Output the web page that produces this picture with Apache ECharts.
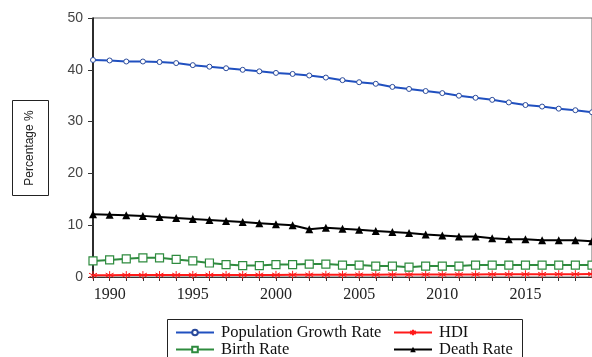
<!DOCTYPE html>
<html>
<head>
    <meta charset="utf-8">
    <script src="https://cdn.jsdelivr.net/npm/echarts@6/dist/echarts.min.js"></script>
</head>
<body style="margin:0">
    <div id="main" style="width: 592px;height:357px;"></div>
    <script type="text/javascript">
        var years = [];
        for (var y = 1989; y <= 2019; y++) years.push(String(y));

        var popGrowth = [41.9, 41.8, 41.6, 41.6, 41.5, 41.3, 40.9, 40.6, 40.3, 40.0, 39.7, 39.4, 39.2,
            38.9, 38.5, 38.0, 37.6, 37.3, 36.7, 36.3, 35.9, 35.5, 35.0, 34.6, 34.2, 33.7, 33.2, 32.9, 32.5, 32.2, 31.8];
        var hdi = [0.35, 0.36, 0.37, 0.37, 0.38, 0.38, 0.39, 0.39, 0.40, 0.40, 0.41, 0.41, 0.42,
            0.42, 0.43, 0.43, 0.44, 0.45, 0.46, 0.46, 0.47, 0.48, 0.49, 0.50, 0.51, 0.52, 0.53, 0.54, 0.55, 0.55, 0.56];
        var birthRate = [3.1, 3.3, 3.5, 3.7, 3.7, 3.4, 3.1, 2.7, 2.4, 2.2, 2.2, 2.4, 2.4,
            2.5, 2.5, 2.3, 2.3, 2.1, 2.1, 1.9, 2.1, 2.1, 2.1, 2.3, 2.3, 2.3, 2.3, 2.3, 2.3, 2.3, 2.3];
        var deathRate = [12.1, 12.0, 11.9, 11.8, 11.6, 11.4, 11.2, 11.0, 10.8, 10.6, 10.4, 10.2, 10.0,
            9.2, 9.5, 9.3, 9.1, 8.9, 8.7, 8.5, 8.2, 8.0, 7.8, 7.8, 7.5, 7.3, 7.3, 7.1, 7.1, 7.1, 6.9];

        var serif = '"Liberation Serif", "Times New Roman", serif';
        var sans = 'Arial, "Liberation Sans", sans-serif';
        var asterisk = 'path://M0,-5L0,5M-4.5,-2.5L4.5,2.5M-4.5,2.5L4.5,-2.5';

        // one legend per entry so the two columns line up like the original
        function legendAt(name, left, top) {
            return {
                data: [name], left: left, top: top,
                itemWidth: 38, itemHeight: 7, itemGap: 0,
                textStyle: { fontFamily: serif, fontSize: 16.5, color: '#111', padding: [0, 0, 0, 2] }
            };
        }

        var myChart = echarts.init(document.getElementById('main'));

        myChart.setOption({
            animation: false,
            grid: {
                left: 93, top: 18, right: 0, bottom: 80,
                show: true, borderColor: '#666', borderWidth: 1
            },
            legend: [
                legendAt('Population Growth Rate', 170, 319),
                legendAt('Birth Rate', 170, 336),
                legendAt('HDI', 388, 319),
                legendAt('Death Rate', 388, 336)
            ],
            graphic: [
                {
                    type: 'rect', shape: { x: 167.5, y: 319.5, width: 355, height: 45 },
                    style: { fill: 'none', stroke: '#222', lineWidth: 1 }
                },
                {
                    type: 'rect', shape: { x: 12.5, y: 100.5, width: 36, height: 95 },
                    style: { fill: '#fff', stroke: '#222', lineWidth: 1 }
                },
                {
                    type: 'text', x: 30, y: 148, rotation: Math.PI / 2,
                    style: {
                        text: 'Percentage %', fontFamily: sans, fontSize: 12, fill: '#222',
                        align: 'center', verticalAlign: 'middle'
                    }
                }
            ],
            xAxis: {
                type: 'category',
                boundaryGap: false,
                data: years,
                axisLine: { lineStyle: { color: '#333', width: 1 } },
                axisTick: { interval: 0, length: 4, lineStyle: { color: '#333' } },
                axisLabel: {
                    interval: function (i, v) { return Number(v) % 5 === 0; },
                    fontFamily: serif, fontSize: 16, color: '#222', margin: 10
                },
                splitLine: { show: false }
            },
            yAxis: {
                type: 'value',
                min: 0, max: 50, interval: 10,
                axisLine: { show: true, lineStyle: { color: '#000', width: 1.5 } },
                axisTick: { show: true, length: 5, lineStyle: { color: '#333' } },
                axisLabel: { fontFamily: sans, fontSize: 14, color: '#444', margin: 10 },
                splitLine: { show: false }
            },
            series: [
                {
                    name: 'Population Growth Rate', type: 'line', data: popGrowth,
                    symbol: 'circle', symbolSize: 5, showAllSymbol: true,
                    lineStyle: { color: '#2050c0', width: 2 },
                    itemStyle: { color: '#fff', borderColor: '#2a4a9a', borderWidth: 1 }
                },
                {
                    name: 'HDI', type: 'line', data: hdi,
                    symbol: asterisk, symbolSize: 8, showAllSymbol: true,
                    lineStyle: { color: '#ff1a1a', width: 2 },
                    itemStyle: { color: '#ff1a1a', borderColor: '#ff1a1a', borderWidth: 1 }
                },
                {
                    name: 'Birth Rate', type: 'line', data: birthRate,
                    symbol: 'rect', symbolSize: 8, showAllSymbol: true,
                    lineStyle: { color: '#2e8b3e', width: 2 },
                    itemStyle: { color: '#fff', borderColor: '#2e8b3e', borderWidth: 1.2 }
                },
                {
                    name: 'Death Rate', type: 'line', data: deathRate,
                    symbol: 'triangle', symbolSize: 8, showAllSymbol: true,
                    lineStyle: { color: '#000', width: 2 },
                    itemStyle: { color: '#000' }
                }
            ]
        });
    </script>
</body>
</html>
